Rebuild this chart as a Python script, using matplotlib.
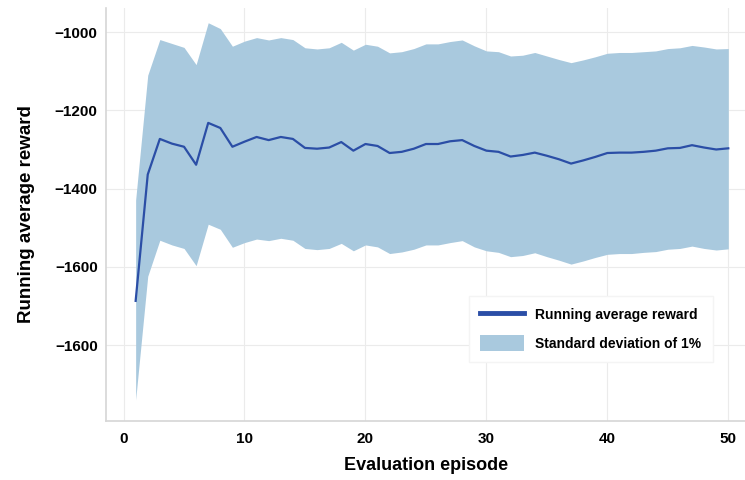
import numpy as np
import matplotlib
matplotlib.use("Agg")
import matplotlib.pyplot as plt

plt.rcParams['font.family'] = ['Liberation Sans', 'DejaVu Sans']

episodes = np.arange(1, 51)

mean_reward = [-1687, -1364, -1273, -1285, -1293, -1339, -1232, -1245, -1293, -1280,
               -1268, -1276, -1268, -1273, -1296, -1298, -1295, -1281, -1303, -1286,
               -1291, -1309, -1306, -1298, -1286, -1286, -1279, -1276, -1291, -1303,
               -1306, -1318, -1314, -1308, -1316, -1325, -1336, -1328, -1319, -1309,
               -1308, -1308, -1306, -1303, -1297, -1296, -1289, -1295, -1300, -1297]

upper_band = [-1429, -1110, -1019, -1029, -1039, -1083, -976, -991, -1036, -1023,
              -1014, -1020, -1014, -1019, -1040, -1043, -1040, -1026, -1046, -1031,
              -1036, -1053, -1050, -1042, -1030, -1030, -1024, -1020, -1035, -1048,
              -1050, -1061, -1059, -1052, -1061, -1070, -1078, -1071, -1063, -1054,
              -1052, -1052, -1050, -1048, -1042, -1040, -1034, -1038, -1043, -1042]

lower_band = [-1940, -1624, -1532, -1544, -1553, -1597, -1491, -1504, -1550, -1538,
              -1529, -1533, -1527, -1532, -1553, -1556, -1553, -1540, -1559, -1544,
              -1549, -1566, -1562, -1555, -1544, -1544, -1538, -1533, -1549, -1559,
              -1563, -1574, -1571, -1564, -1574, -1583, -1593, -1585, -1576, -1568,
              -1566, -1566, -1563, -1561, -1555, -1553, -1547, -1553, -1557, -1554]

y_ticks = [-1000, -1200, -1400, -1600, -1800]
y_tick_labels = ["\u22121000", "\u22121200", "\u22121400", "\u22121600", "\u22121600"]
x_ticks = [0, 10, 20, 30, 40, 50]

fig = plt.figure(figsize=(7.45, 4.8), dpi=100)
ax = fig.add_axes([0.1423, 0.123, 0.858, 0.86])

ax.fill_between(episodes, lower_band, upper_band, color="#a9c9de", linewidth=0,
                label="Standard deviation of 1%", zorder=2)
ax.plot(episodes, mean_reward, color="#2b4ea6", linewidth=1.6,
        label="Running average reward", zorder=3)

ax.set_xlim(-1.45, 51.4)
ax.set_ylim(-1994, -938.7)
ax.set_xticks(x_ticks)
ax.set_yticks(y_ticks)
ax.set_yticklabels(y_tick_labels)
ax.tick_params(axis="y", length=0, labelsize=11, pad=6)
ax.tick_params(axis="x", length=0, labelsize=11, pad=8)
for lab in ax.get_xticklabels() + ax.get_yticklabels():
    lab.set_fontweight("bold")

ax.grid(True, color="#ebebeb", linewidth=0.8, zorder=0)
ax.set_axisbelow(True)
for side in ["top", "right"]:
    ax.spines[side].set_visible(False)
for side in ["left", "bottom"]:
    ax.spines[side].set_color("#d6d6d6")
    ax.spines[side].set_linewidth(1.2)

ax.set_xlabel("Evaluation episode", fontsize=13, fontweight="bold", labelpad=8)
ax.set_ylabel("Running average reward", fontsize=13.5, fontweight="bold", labelpad=14)

handles, labels = ax.get_legend_handles_labels()
leg = ax.legend(handles[::-1], labels[::-1], loc="lower right",
                bbox_to_anchor=(0.96, 0.125), frameon=True, fancybox=False,
                edgecolor="#f4f4f4", framealpha=1, handlelength=3.2,
                handleheight=1.4, labelspacing=0.9, borderpad=0.8,
                prop={"weight": "bold", "size": 10})
leg.get_lines()[0].set_linewidth(3.5)

plt.savefig("out.png", dpi=100)
